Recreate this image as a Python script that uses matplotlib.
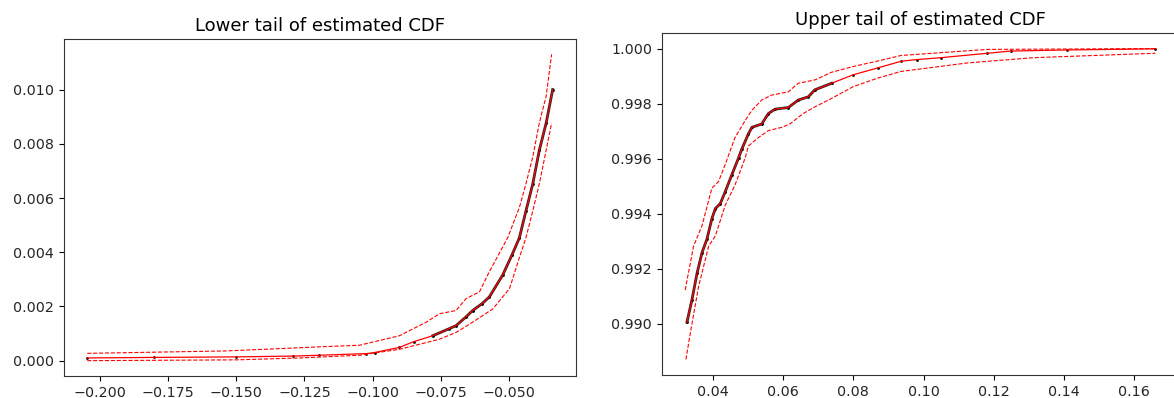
import numpy as np
import matplotlib.pyplot as plt

# Lower tail: estimated CDF and its band
lower_x = [-0.2045, -0.180, -0.150, -0.129, -0.1196, -0.1024, -0.0993, -0.0902, -0.0850,
           -0.0780, -0.0720, -0.0695, -0.0660, -0.0634, -0.0600, -0.0573, -0.0524,
           -0.0490, -0.0463, -0.0439, -0.0414, -0.0390, -0.0365, -0.0341]
lower_cdf = [0.0001, 0.00012, 0.00014, 0.00017, 0.0002, 0.00026, 0.0003, 0.00049, 0.0007,
             0.00092, 0.00118, 0.00129, 0.0016, 0.00185, 0.0021, 0.00235, 0.00316,
             0.0039, 0.00453, 0.00552, 0.00652, 0.00776, 0.00876, 0.0100]

lower_up_x = [-0.2045, -0.1535, -0.117, -0.1048, -0.0902, -0.0804, -0.0756, -0.0695, -0.0658,
              -0.0609, -0.0573, -0.0506, -0.0463, -0.0439, -0.0414, -0.0390, -0.0365, -0.0345]
lower_up = [0.00027, 0.00036, 0.00052, 0.00057, 0.00092, 0.00142, 0.00173, 0.00185, 0.00229,
            0.00254, 0.00328, 0.00453, 0.00565, 0.00652, 0.00751, 0.00877, 0.00975, 0.0113]

lower_lo_x = [-0.2045, -0.150, -0.1267, -0.1048, -0.0902, -0.0756, -0.0695, -0.0634, -0.0560,
              -0.0499, -0.0463, -0.0439, -0.0414, -0.0390, -0.0365, -0.0345]
lower_lo = [0.0, 0.00003, 0.0001, 0.0002, 0.00042, 0.00079, 0.00104, 0.00142, 0.00191,
            0.00266, 0.0038, 0.00453, 0.00552, 0.00652, 0.00776, 0.00876]

# Upper tail: estimated CDF and its band
upper_x = [0.0326, 0.0340, 0.0355, 0.0369, 0.0383, 0.0397, 0.0407, 0.0421, 0.0435, 0.0454,
           0.0473, 0.0482, 0.0501, 0.0511, 0.0539, 0.0558, 0.0577, 0.0615, 0.0643, 0.0672,
           0.0690, 0.0738, 0.0800, 0.0870, 0.0936, 0.0980, 0.1050, 0.1182, 0.1248, 0.1409,
           0.1660]
upper_cdf = [0.99006, 0.99086, 0.99185, 0.99259, 0.99308, 0.99382, 0.99419, 0.99437, 0.9948,
             0.99542, 0.99603, 0.99634, 0.9969, 0.99714, 0.99726, 0.99764, 0.9978, 0.99786,
             0.99813, 0.99825, 0.9985, 0.99874, 0.99905, 0.9993, 0.99954, 0.9996, 0.99967,
             0.99983, 0.99991, 0.99995, 0.99999]

upper_up_x = [0.0321, 0.0345, 0.0369, 0.0397, 0.0416, 0.0435, 0.0463, 0.0492, 0.0511, 0.0539,
              0.0567, 0.0615, 0.0643, 0.0690, 0.0738, 0.0800, 0.0870, 0.0936, 0.1182, 0.1660]
upper_up = [0.99123, 0.99283, 0.99357, 0.99493, 0.99517, 0.99579, 0.99677, 0.99739, 0.99776,
            0.99813, 0.99831, 0.99843, 0.99874, 0.99886, 0.99914, 0.99935, 0.99955, 0.99975,
            0.99997, 1.0000]

upper_lo_x = [0.0323, 0.0336, 0.0359, 0.0388, 0.0407, 0.0435, 0.0463, 0.0492, 0.0501, 0.0530,
              0.0558, 0.0596, 0.0619, 0.0657, 0.0690, 0.0738, 0.0800, 0.0870, 0.0936, 0.1126,
              0.1314, 0.1660]
upper_lo = [0.98871, 0.98969, 0.99135, 0.99283, 0.9932, 0.99431, 0.99505, 0.99603, 0.99646,
            0.99677, 0.99702, 0.99714, 0.99726, 0.99764, 0.99788, 0.99819, 0.99862, 0.99893,
            0.99917, 0.99948, 0.99967, 0.99983]


def tail_plot(ax, x, cdf, x_up, up, x_lo, lo, dense, title):
    x = np.array(x)
    cdf = np.array(cdf)
    ax.plot(x[dense], cdf[dense], color='k', lw=2.0, alpha=0.85)
    ax.plot(x, cdf, 'k.', markersize=2)
    ax.plot(x, cdf, color='r', lw=0.9)
    ax.plot(x_up, up, color='r', ls='--', lw=0.8)
    ax.plot(x_lo, lo, color='r', ls='--', lw=0.8)
    ax.set_title(title, fontsize=13)
    ax.tick_params(labelsize=10.3, labelcolor='#262626')
    for s in ax.spines.values():
        s.set_color('#333333')


fig = plt.figure(figsize=(11.74, 3.98), dpi=100)
ax1 = fig.add_axes([0.0545, 0.0553, 0.4361, 0.8467])
ax2 = fig.add_axes([0.5636, 0.0578, 0.4405, 0.8592])

tail_plot(ax1, lower_x, lower_cdf, lower_up_x, lower_up, lower_lo_x, lower_lo,
          np.array(lower_cdf) > 0.0008, 'Lower tail of estimated CDF')
tail_plot(ax2, upper_x, upper_cdf, upper_up_x, upper_up, upper_lo_x, upper_lo,
          np.array(upper_cdf) < 0.9988, 'Upper tail of estimated CDF')

fig.savefig('out.png', dpi=100)
